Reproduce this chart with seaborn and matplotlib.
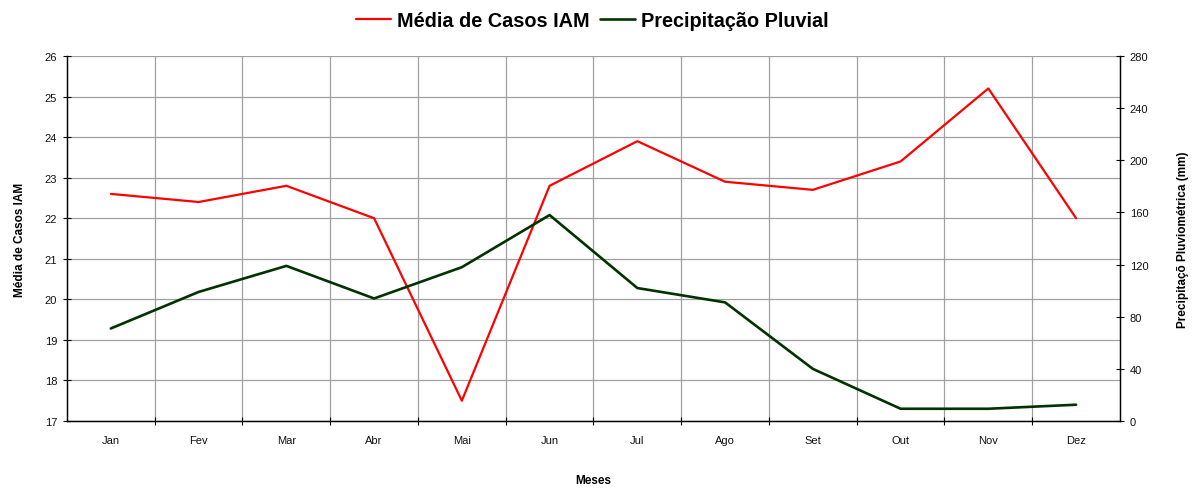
import numpy as np
import pandas as pd
import matplotlib
matplotlib.use("Agg")
import matplotlib.pyplot as plt
import seaborn as sns

# data
meses = ['Jan', 'Fev', 'Mar', 'Abr', 'Mai', 'Jun', 'Jul', 'Ago', 'Set', 'Out', 'Nov', 'Dez']
casos_iam = [22.6, 22.4, 22.8, 22.0, 17.5, 22.8, 23.9, 22.9, 22.7, 23.4, 25.2, 22.0]
precipitacao = [71, 99, 119, 94, 118, 158, 102, 91, 40, 9.4, 9.4, 12.5]

df = pd.DataFrame({'pos': np.arange(len(meses)), 'mes': meses,
                   'casos': casos_iam, 'chuva': precipitacao})

sns.set_theme(style="white")
plt.rcParams['font.family'] = ['Liberation Sans', 'DejaVu Sans']
plt.rcParams['text.color'] = 'black'
plt.rcParams['axes.labelcolor'] = 'black'

fig, ax = plt.subplots(figsize=(11.94, 4.89), dpi=100)
fig.subplots_adjust(left=0.0561, right=0.938, bottom=0.137, top=0.8834)
ax2 = ax.twinx()

sns.lineplot(data=df, x='pos', y='casos', ax=ax, color='#ff0000', linewidth=1.6,
             label='Média de Casos IAM', legend=False)
sns.lineplot(data=df, x='pos', y='chuva', ax=ax2, color='#003300', linewidth=1.9,
             label='Precipitação Pluvial', legend=False)

# axes ranges and ticks
ax.set_xlim(-0.5, len(meses) - 0.5)
ax.set_ylim(17, 26)
ax.set_yticks(np.arange(17, 27, 1))
ax2.set_ylim(0, 280)
ax2.set_yticks(np.arange(0, 281, 40))

ax.set_xticks(df['pos'])
ax.set_xticklabels(meses)
ax.set_xticks(np.arange(0.5, len(meses) - 0.5, 1), minor=True)

grid_color = '#a0a0a0'
ax.grid(axis='y', which='major', color=grid_color, linewidth=0.9)
ax.grid(axis='x', which='minor', color=grid_color, linewidth=0.9)
ax.grid(axis='x', which='major', visible=False)
ax.set_axisbelow(True)

ax.tick_params(axis='x', which='major', length=0, pad=10, labelsize=8, labelcolor='#111111')
ax.tick_params(axis='x', which='minor', direction='inout', length=6, width=0.8,
               color='black', bottom=True)
ax.tick_params(axis='y', direction='inout', length=6, width=0.8, color='black',
               left=True, labelsize=8, pad=4, labelcolor='#111111')
ax2.tick_params(axis='y', direction='inout', length=6, width=0.8, color='black',
                right=True, labelsize=8, pad=4, labelcolor='#111111')

for a in (ax, ax2):
    a.spines['top'].set_visible(False)
    for s in ('left', 'right', 'bottom'):
        a.spines[s].set_color('black')
        a.spines[s].set_linewidth(0.9)

# labels
ax.set_xlabel('Meses', fontsize=8.5, fontweight='bold')
ax.xaxis.set_label_coords(0.5, -0.145)
ax.set_ylabel('Média de Casos IAM', fontsize=8.5, fontweight='bold')
ax.yaxis.set_label_coords(-0.039, 0.5)
ax2.set_ylabel('Precipitaçõ Pluviométrica (mm)', fontsize=8.5, fontweight='bold')
ax2.yaxis.set_label_coords(1.054, 0.5)

# legend on top
h1, l1 = ax.get_legend_handles_labels()
h2, l2 = ax2.get_legend_handles_labels()
fig.legend(h1 + h2, l1 + l2, loc='center', bbox_to_anchor=(0.496, 0.957), ncol=2,
           frameon=False, prop={'weight': 'bold', 'size': 14.3},
           handlelength=1.76, handletextpad=0.3, columnspacing=0.5)

plt.savefig('out.png', dpi=100)
